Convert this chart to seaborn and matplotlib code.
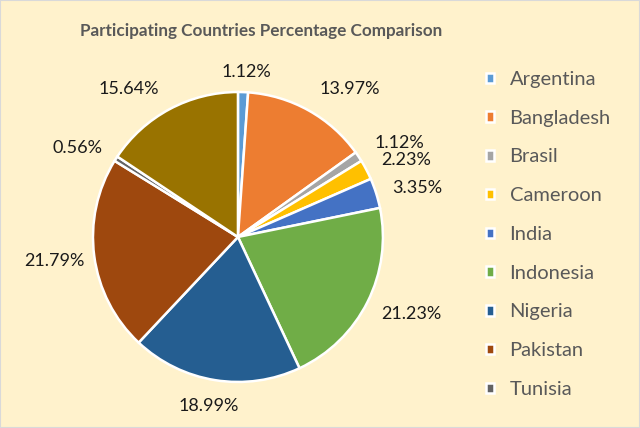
import matplotlib
matplotlib.use("Agg")
import matplotlib.pyplot as plt
import seaborn as sns
from matplotlib.patches import Rectangle

sns.set_theme(style="white")
plt.rcParams['font.family'] = ['Lato', 'DejaVu Sans']

countries = ["Argentina", "Bangladesh", "Brasil", "Cameroon", "India",
             "Indonesia", "Nigeria", "Pakistan", "Tunisia", "Other"]
percentages = [1.12, 13.97, 1.12, 2.23, 3.35, 21.23, 18.99, 21.79, 0.56, 15.64]
legend_countries = countries[:9]
colors = ["#5B9BD5", "#ED7D31", "#A5A5A5", "#FFC000", "#4472C4",
          "#70AD47", "#255E91", "#9E480E", "#636363", "#997300"]

bg = "#FFF2CC"
fig = plt.figure(figsize=(6.4, 4.28), dpi=100, facecolor=bg)
ax = fig.add_axes([0.1453, 0.1075, 0.453, 0.6776])
ax.set_facecolor(bg)

wedges, texts, autotexts = ax.pie(
    percentages, colors=colors, startangle=90, counterclock=False,
    autopct=lambda p: f"{p:.2f}%", pctdistance=1.28,
    wedgeprops=dict(edgecolor="white", linewidth=1.8),
    textprops=dict(fontsize=13, color="#1a1a1a"))

# label offsets (data units, radius = 1), mimicking best-fit placement
tweaks = {0: (0.01, -0.14), 1: (0.145, -0.10), 2: (0.05, -0.06),
          3: (0.025, -0.06), 4: (0.02, -0.05), 5: (0.05, 0.04),
          6: (0.0, 0.097), 8: (-0.03, -0.08), 9: (-0.15, -0.11)}
for i, (dx, dy) in tweaks.items():
    x, y = autotexts[i].get_position()
    autotexts[i].set_position((x + dx, y + dy))

ax.set_xlim(-1, 1)
ax.set_ylim(-1, 1)
ax.set_aspect("equal")
ax.axis("off")

fig.text(0.408, 0.928, "Participating Countries Percentage Comparison",
         ha="center", va="center", fontsize=12.3, fontweight="bold", color="#595959")

leg = fig.legend(wedges[:9], legend_countries, loc="upper left",
                 bbox_to_anchor=(486 / 640, 1 - 71 / 428), frameon=False,
                 borderpad=0, borderaxespad=0,
                 fontsize=14.5, labelcolor="#595959", handlelength=0.42,
                 handleheight=0.42, labelspacing=1.08, handletextpad=0.75)

fig.patches.append(Rectangle((0, 0), 1, 1, transform=fig.transFigure,
                             fill=False, edgecolor="#D9D9D9", linewidth=1.5))

fig.savefig("out.png", dpi=100, facecolor=bg)
